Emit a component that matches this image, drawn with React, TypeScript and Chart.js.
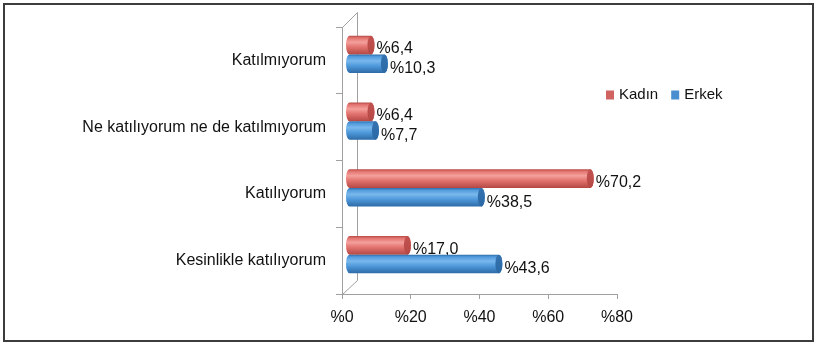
import React, { useEffect, useRef } from "react";
import { Chart, registerables } from "chart.js";

Chart.register(...registerables);

const categories = [
  "Katılmıyorum",
  "Ne katılıyorum ne de katılmıyorum",
  "Katılıyorum",
  "Kesinlikle katılıyorum",
];
const seriesNames = ["Kadın", "Erkek"];
const kadinValues = [6.4, 6.4, 70.2, 17.0];
const erkekValues = [10.3, 7.7, 38.5, 43.6];
const xMin = 0;
const xMax = 80;
const xStep = 20;

const FONT = "'Liberation Sans', Arial, sans-serif";
const AXIS_COLOR = "#a0a0a0";

const palettes = [
  { base: "#d9605c", light: "#f4a09c", mid: "#e3746f", dark: "#b54845", cap: "#c3524f", legend: "#d0625f" },
  { base: "#4a8fd0", light: "#7ab8ec", mid: "#509adc", dark: "#2c6aa6", cap: "#3472b0", legend: "#4a8ecf" },
];

// 3D depth offset of the series plane
const DEPTH_X = 7;
const DEPTH_Y = -6;

const fmt = (v: number) => "%" + v.toFixed(1).replace(".", ",");

const cylinderPlugin = {
  id: "cylinders",
  beforeDatasetDraw() {
    return false;
  },
  afterDatasetsDraw(chart: any) {
    const ctx = chart.ctx;
    ctx.save();
    chart.data.datasets.forEach((ds: any, di: number) => {
      const meta = chart.getDatasetMeta(di);
      const pal = palettes[di];
      meta.data.forEach((bar: any, i: number) => {
        const p = bar.getProps(["x", "y", "base", "height"], true);
        const top = p.y - p.height / 2 + DEPTH_Y;
        const bot = p.y + p.height / 2 + DEPTH_Y;
        const h = bot - top;
        const left = p.base + DEPTH_X;
        const right = p.x + DEPTH_X;
        const rx = 3.5;
        const cy = (top + bot) / 2;
        const g = ctx.createLinearGradient(0, top, 0, bot);
        g.addColorStop(0, pal.dark);
        g.addColorStop(0.12, pal.mid);
        g.addColorStop(0.35, pal.light);
        g.addColorStop(0.6, pal.mid);
        g.addColorStop(1, pal.dark);
        ctx.fillStyle = g;
        ctx.beginPath();
        ctx.moveTo(left, top);
        ctx.lineTo(right, top);
        ctx.ellipse(right, cy, rx, h / 2, 0, -Math.PI / 2, Math.PI / 2, false);
        ctx.lineTo(left, bot);
        ctx.ellipse(left, cy, rx, h / 2, 0, Math.PI / 2, -Math.PI / 2, false);
        ctx.closePath();
        ctx.fill();
        // end cap
        const cg = ctx.createLinearGradient(0, top, 0, bot);
        cg.addColorStop(0, pal.cap);
        cg.addColorStop(1, pal.dark);
        ctx.fillStyle = cg;
        ctx.beginPath();
        ctx.ellipse(right, cy, rx, h / 2, 0, 0, Math.PI * 2);
        ctx.fill();
        // label
        const v = ds.data[i];
        ctx.fillStyle = "#111";
        ctx.font = "16px " + FONT;
        ctx.textAlign = "left";
        ctx.textBaseline = "middle";
        ctx.fillText(fmt(v), right + rx + 2, cy + (di === 0 ? 4 : 5));
      });
    });
    ctx.restore();
  },
};

const framePlugin = {
  id: "frame3d",
  beforeDraw(chart: any) {
    const { ctx, chartArea } = chart;
    const { left, top, bottom } = chartArea;
    ctx.save();
    ctx.strokeStyle = AXIS_COLOR;
    ctx.lineWidth = 1;
    ctx.beginPath();
    ctx.moveTo(left + 0.5, top + 0.5);
    ctx.lineTo(left + 15.5, top - 14.5);
    ctx.lineTo(left + 15.5, bottom - 13.5);
    ctx.lineTo(left + 0.5, bottom + 0.5);
    ctx.stroke();
    ctx.restore();
  },
};

const legendPlugin = {
  id: "customLegend",
  afterDraw(chart: any) {
    const { ctx, chartArea } = chart;
    ctx.save();
    ctx.font = "15px " + FONT;
    ctx.textBaseline = "middle";
    ctx.textAlign = "left";
    let x = chartArea.right - 11;
    const y = chartArea.top + 68;
    chart.data.datasets.forEach((ds: any, di: number) => {
      ctx.fillStyle = palettes[di].legend;
      ctx.fillRect(x, y - 4.5, 8, 9);
      ctx.fillStyle = "#111";
      ctx.fillText(ds.label, x + 13, y);
      x += 13 + ctx.measureText(ds.label).width + 13;
    });
    ctx.restore();
  },
};

export default function App() {
  const ref = useRef<HTMLCanvasElement | null>(null);
  useEffect(() => {
    if (!ref.current) return;
    const chart = new Chart(ref.current, {
      type: "bar",
      data: {
        labels: categories,
        datasets: [
          { label: seriesNames[0], data: kadinValues, backgroundColor: palettes[0].base },
          { label: seriesNames[1], data: erkekValues, backgroundColor: palettes[1].base },
        ],
      },
      options: {
        indexAxis: "y",
        responsive: false,
        animation: false,
        layout: { padding: { top: 27, right: 198, bottom: 0, left: 0 } },
        datasets: { bar: { categoryPercentage: 0.56, barPercentage: 1 } },
        plugins: { legend: { display: false }, tooltip: { enabled: false } },
        scales: {
          x: {
            min: xMin,
            max: xMax,
            ticks: {
              stepSize: xStep,
              color: "#111",
              font: { size: 16, family: FONT },
              padding: 9,
              callback: (v: any) => "%" + v,
            },
            grid: { drawOnChartArea: false, drawTicks: true, tickLength: 5, color: AXIS_COLOR },
            border: { color: AXIS_COLOR },
            afterFit: (s: any) => {
              s.height = 50;
            },
          },
          y: {
            ticks: {
              color: "#111",
              font: { size: 16, family: FONT },
              padding: 10,
            },
            grid: { drawOnChartArea: false, drawTicks: true, tickLength: 6, color: AXIS_COLOR, offset: true },
            border: { color: AXIS_COLOR },
            afterFit: (s: any) => {
              s.width = 342;
            },
          },
        },
      },
      plugins: [framePlugin, cylinderPlugin, legendPlugin],
    } as any);
    return () => chart.destroy();
  }, []);
  return (
    <div style={{ position: "fixed", left: 0, top: 0, width: 815, height: 344, background: "#fff" }}>
      <canvas ref={ref} width={815} height={344} style={{ display: "block" }} />
      <div
        style={{
          position: "absolute",
          left: 3,
          top: 3,
          width: 811,
          height: 339,
          border: "2px solid #3c3c3c",
          boxSizing: "border-box",
          pointerEvents: "none",
        }}
      />
    </div>
  );
}
